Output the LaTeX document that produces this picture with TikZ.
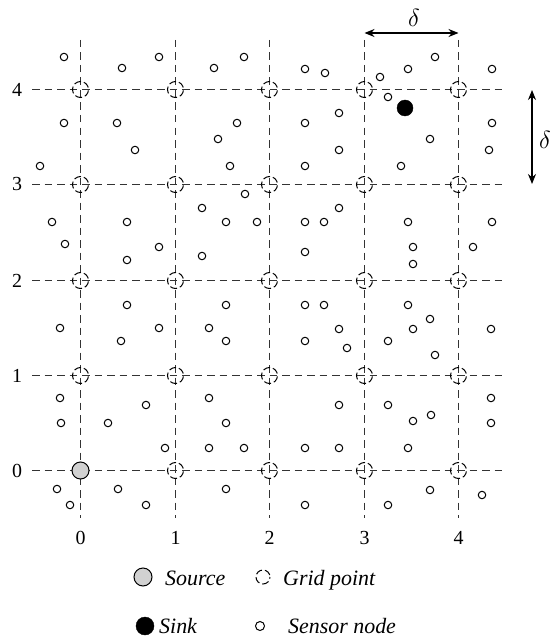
\documentclass[tikz,border=0pt]{standalone}
\usepackage{fontspec}
\setmainfont{Liberation Serif}
\usetikzlibrary{arrows.meta}
\tikzset{
  gridline/.style={draw=black!80, line width=1.2bp, dash pattern=on 7.5bp off 5bp},
  gridpt/.style={circle, draw=black, line width=1bp, dash pattern=on 7bp off 3bp, dash phase=8bp, minimum size=16bp, inner sep=0pt},
  sensor/.style={circle, draw=black, fill=white, line width=1bp, minimum size=7.5bp, inner sep=0pt},
  source/.style={circle, draw=black, fill=black!18, line width=1bp, minimum size=17bp, inner sep=0pt},
  sink/.style={circle, draw=black, fill=black, minimum size=16bp, inner sep=0pt},
  axlabel/.style={font=\fontsize{20}{20}\selectfont, inner sep=0pt},
  legtext/.style={font=\fontsize{22}{22}\selectfont\itshape, inner sep=0pt, anchor=base west},
  dimarrow/.style={{Stealth[length=10bp,width=8bp]}-{Stealth[length=10bp,width=8bp]}, line width=1.2bp, black},
  deltalabel/.style={font=\fontsize{27}{27}\selectfont, inner sep=0pt},
}
\begin{document}
\begin{tikzpicture}[x=1bp,y=-1bp]
\useasboundingbox (0,0) rectangle (553,639);
% grid lines
\foreach \yy [count=\c from 0] in {470.5,375.5,280.5,184.5,89.5}{
  \coordinate (hl\c) at (32,\yy);
  \coordinate (hr\c) at (507,\yy);
  \draw[gridline] (hl\c) -- (hr\c);
  \node[axlabel] (ly\c) at (17,\yy) {\c};
}
\foreach \xx [count=\c from 0] in {80.5,175.5,269.5,364.5,458.5}{
  \coordinate (vt\c) at (\xx,40);
  \coordinate (vb\c) at (\xx,518);
  \draw[gridline] (vt\c) -- (vb\c);
  \node[axlabel] (lx\c) at (\xx,538) {\c};
}
% grid points
\foreach \xx [count=\i from 0] in {80.5,175.5,269.5,364.5,458.5}{
  \foreach \yy [count=\j from 0] in {470.5,375.5,280.5,184.5,89.5}{
    \ifnum\i\j=00 \else
      \node[gridpt] (g-\i-\j) at (\xx,\yy) {};
    \fi
  }
}
% sensors
\foreach \p [count=\k] in {
(64,57),(159,57),(122,68),(244,57),(214,68),(64,123),(117,123),(135,150),(237,123),(218,139),(230,166),(40,166),(245,194),
(305,69),(325,73),(380,77),(408,69),(435,57),(492,69),(388,97),(339,113),(305,123),(492,123),(339,150),(430,139),(489,150),(305,166),(401,166),
(202,208),(52,222),(127,222),(226,222),(257,222),(65,244),(159,247),(127,260),(202,256),(127,305),(226,305),(60,328),(159,328),(209,328),(121,341),(226,341),
(339,208),(305,222),(324,222),(408,222),(492,222),(305,252),(413,247),(473,247),(413,264),(305,305),(324,305),(408,305),(430,319),(339,329),(413,329),(491,329),(305,341),(388,341),(347,348),(435,355),
(60,398),(146,405),(61,423),(108,423),(209,398),(226,423),(165,448),(209,448),(244,448),(57,489),(118,489),(226,489),(70,505),(146,505),
(339,405),(388,405),(413,421),(431,415),(491,398),(491,423),(305,448),(339,448),(408,448),(430,490),(482,495),(305,505),(388,505)}{
  \node[sensor] (s\k) at \p {};
}
% source and sink
\node[source] (src) at (80.5,470.5) {};
\node[sink] (snk) at (405,108) {};
% delta arrows
\coordinate (ha) at (364.5,33);
\coordinate (hb) at (458.5,33);
\draw[dimarrow] (ha) -- (hb);
\node[deltalabel] (dh) at (414,18) {$\delta$};
\coordinate (va) at (532,90);
\coordinate (vb) at (532,184);
\draw[dimarrow] (va) -- (vb);
\node[deltalabel] (dv) at (545,140) {$\delta$};
% legend
\node[source, minimum size=18bp] (lsrc) at (143,577) {};
\node[legtext] (tsrc) at (165,585) {Source};
\node[gridpt, minimum size=14bp] (lgp) at (263,577) {};
\node[legtext] (tgp) at (283,585) {Grid point};
\node[sink, minimum size=18bp] (lsnk) at (145,626) {};
\node[legtext] (tsnk) at (159,633) {Sink};
\node[sensor, minimum size=9bp] (lsen) at (260,626) {};
\node[legtext] (tsen) at (288,633) {Sensor node};
\end{tikzpicture}
\end{document}
